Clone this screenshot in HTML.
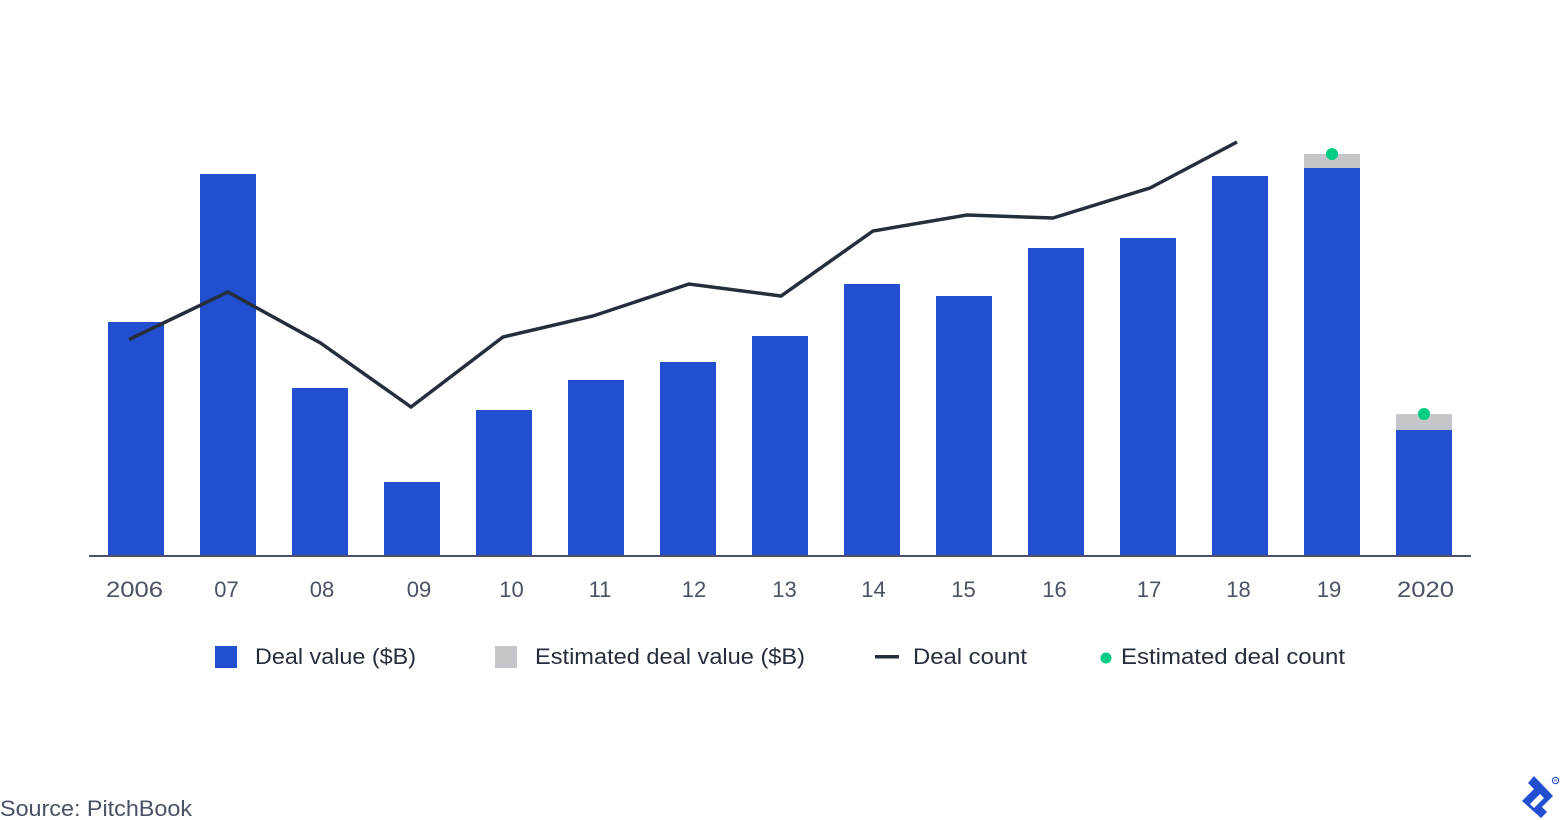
<!DOCTYPE html>
<html>
<head>
<meta charset="utf-8">
<style>
  html,body{margin:0;padding:0;background:#fff;}
  body{width:1560px;height:820px;overflow:hidden;}
  svg{display:block;}
  text{font-family:"Liberation Sans","DejaVu Sans",sans-serif;}
</style>
</head>
<body>
<svg width="1560" height="820" viewBox="0 0 1560 820" xmlns="http://www.w3.org/2000/svg">
  <rect width="1560" height="820" fill="#ffffff"/>

  <!-- Bars -->
  <g fill="#214fcf">
    <rect x="108"  y="322" width="56" height="234"/>
    <rect x="200"  y="174" width="56" height="382"/>
    <rect x="292"  y="388" width="56" height="168"/>
    <rect x="384"  y="482" width="56" height="74"/>
    <rect x="476"  y="410" width="56" height="146"/>
    <rect x="568"  y="380" width="56" height="176"/>
    <rect x="660"  y="362" width="56" height="194"/>
    <rect x="752"  y="336" width="56" height="220"/>
    <rect x="844"  y="284" width="56" height="272"/>
    <rect x="936"  y="296" width="56" height="260"/>
    <rect x="1028" y="248" width="56" height="308"/>
    <rect x="1120" y="238" width="56" height="318"/>
    <rect x="1212" y="176" width="56" height="380"/>
    <rect x="1304" y="168" width="56" height="388"/>
    <rect x="1396" y="430" width="56" height="126"/>
  </g>
  <!-- Estimated portions -->
  <g fill="#c5c6ca">
    <rect x="1304" y="154" width="56" height="14"/>
    <rect x="1396" y="414" width="56" height="16"/>
  </g>

  <!-- Axis -->
  <rect x="89" y="555" width="1382" height="2" fill="#4a5263"/>

  <!-- Deal count line -->
  <polyline fill="none" stroke="#262d3b" stroke-width="3.5" stroke-linejoin="miter"
    points="129,339.5 228,292 320.5,343 411,407 503,337 593,316 689,284 781,296 873,231 967,215 1053,218 1150,188 1237,142"/>

  <!-- Estimated deal count dots -->
  <circle cx="1332" cy="154" r="6" fill="#00cc83"/>
  <circle cx="1424" cy="414" r="6" fill="#00cc83"/>

  <!-- X labels -->
  <g fill="#4a5263" font-size="22" text-anchor="middle">
    <text x="134.5" y="597" textLength="57" lengthAdjust="spacingAndGlyphs">2006</text>
    <text x="226.5" y="597">07</text>
    <text x="322" y="597">08</text>
    <text x="419" y="597">09</text>
    <text x="511.5" y="597">10</text>
    <text x="600" y="597">11</text>
    <text x="694" y="597">12</text>
    <text x="784.5" y="597">13</text>
    <text x="873.5" y="597">14</text>
    <text x="963.5" y="597">15</text>
    <text x="1054.5" y="597">16</text>
    <text x="1149" y="597">17</text>
    <text x="1238.5" y="597">18</text>
    <text x="1329" y="597">19</text>
    <text x="1425.5" y="597" textLength="57" lengthAdjust="spacingAndGlyphs">2020</text>
  </g>

  <!-- Legend -->
  <rect x="215" y="646" width="22" height="22" fill="#214fcf"/>
  <text x="255" y="664" font-size="22" fill="#262d3b" textLength="161" lengthAdjust="spacingAndGlyphs">Deal value ($B)</text>

  <rect x="495" y="646" width="22" height="22" fill="#c5c6ca"/>
  <text x="535" y="664" font-size="22" fill="#262d3b" textLength="270" lengthAdjust="spacingAndGlyphs">Estimated deal value ($B)</text>

  <rect x="875" y="655" width="24" height="3.5" fill="#262d3b"/>
  <text x="913" y="664" font-size="22" fill="#262d3b" textLength="114" lengthAdjust="spacingAndGlyphs">Deal count</text>

  <circle cx="1106" cy="658" r="5.5" fill="#00cc83"/>
  <text x="1121" y="664" font-size="22" fill="#262d3b" textLength="224" lengthAdjust="spacingAndGlyphs">Estimated deal count</text>

  <!-- Source -->
  <text x="0" y="816" font-size="22" fill="#4a5263" textLength="192" lengthAdjust="spacingAndGlyphs">Source: PitchBook</text>

  <!-- Logo -->
  <path fill="#214fcf" fill-rule="evenodd"
    d="M1534,776 L1553,796 L1542,807 L1547,812 L1541,818 L1522,801 L1534,789 L1528,783 Z
       M1530,804 L1540,794 L1544,798 L1534,808 Z"/>
  <circle cx="1555.5" cy="780.5" r="3.2" fill="none" stroke="#214fcf" stroke-width="1.1"/>
  <text x="1555.5" y="782" font-size="4.5" fill="#214fcf" text-anchor="middle">R</text>
</svg>
</body>
</html>
